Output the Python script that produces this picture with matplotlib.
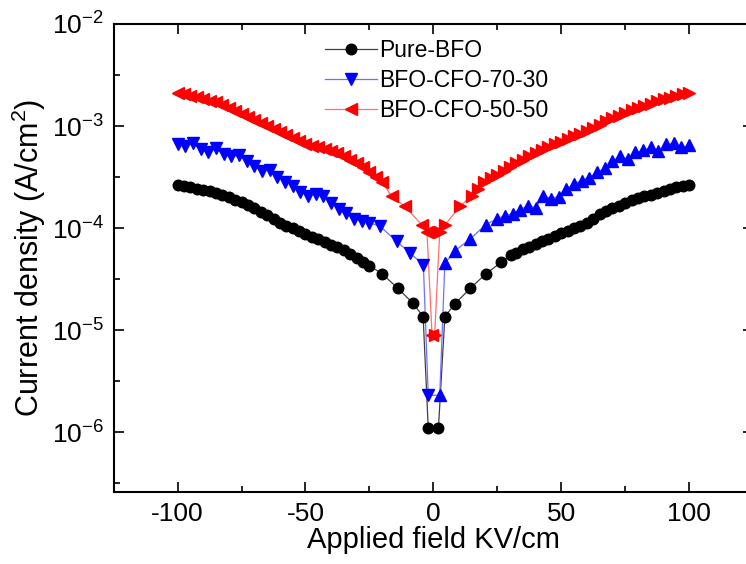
import matplotlib
matplotlib.use("Agg")
import matplotlib.pyplot as plt
from matplotlib.lines import Line2D
from matplotlib.ticker import FixedLocator, NullFormatter
import numpy as np

plt.rcParams['font.family'] = ['Liberation Sans', 'DejaVu Sans']
plt.rcParams['mathtext.fontset'] = 'custom'
plt.rcParams['mathtext.rm'] = 'Liberation Sans'
plt.rcParams['mathtext.it'] = 'Liberation Sans:italic'
plt.rcParams['mathtext.default'] = 'regular'

# ---------------- data ----------------
field_bfo = [-100, -97.5, -95, -92.5, -90, -87.5, -85, -82.5, -80, -77.5, -75, -72.5, -70, -67.5,
             -65, -62.5, -60, -57.5, -55, -52.5, -50, -47.5, -45, -42.5, -40, -37.5, -35, -32.5,
             -30, -27.5, -25, -20, -14, -8, -4, -2,
             2, 4.5, 8.5, 14.5, 20.5, 26.5, 30.5, 32.5, 35, 37.5, 40, 42.5, 45, 47.5, 50, 52.5,
             55, 57.5, 60, 62.5, 65, 67.5, 70, 72.5, 75, 77.5, 80, 82.5, 85, 87.5, 90, 92.5, 95,
             97.5, 100]
j_bfo = [2.67e-4, 2.59e-4, 2.51e-4, 2.43e-4, 2.37e-4, 2.29e-4, 2.22e-4, 2.11e-4, 2.00e-4, 1.89e-4,
         1.79e-4, 1.67e-4, 1.56e-4, 1.45e-4, 1.35e-4, 1.22e-4, 1.13e-4, 1.06e-4, 9.98e-5, 9.35e-5,
         8.81e-5, 8.26e-5, 7.78e-5, 7.31e-5, 6.89e-5, 6.47e-5, 6.10e-5, 5.56e-5, 5.08e-5, 4.69e-5,
         4.30e-5, 3.56e-5, 2.59e-5, 1.84e-5, 1.36e-5, 1.11e-6,
         1.11e-6, 1.36e-5, 1.82e-5, 2.58e-5, 3.56e-5, 4.62e-5, 5.47e-5, 5.75e-5, 6.19e-5, 6.58e-5,
         6.98e-5, 7.41e-5, 7.87e-5, 8.36e-5, 8.87e-5, 9.42e-5, 1.00e-4, 1.06e-4, 1.13e-4, 1.23e-4,
         1.39e-4, 1.48e-4, 1.57e-4, 1.66e-4, 1.77e-4, 1.87e-4, 1.96e-4, 2.05e-4, 2.13e-4, 2.23e-4,
         2.33e-4, 2.42e-4, 2.50e-4, 2.59e-4, 2.67e-4]

field_7030 = [-100, -97, -94, -91, -88, -85, -82, -79, -76, -73, -70, -67, -64, -61, -58, -55, -52,
              -49, -46, -43, -40, -37, -34, -31, -28, -25, -20.8, -14.3, -9.1, -3.9, -2,
              2.5, 4.5, 8.5, 14.5, 20.5, 25, 28, 31, 34, 37, 40, 43, 46, 49, 52, 55, 58, 61, 64,
              67, 70, 73, 76, 79, 82, 85, 88, 91, 94, 97, 100]
j_7030 = [6.61e-4, 6.31e-4, 6.76e-4, 5.90e-4, 5.51e-4, 6.04e-4, 5.27e-4, 5.04e-4, 5.15e-4, 4.50e-4,
          4.02e-4, 3.66e-4, 3.75e-4, 3.20e-4, 2.86e-4, 2.61e-4, 2.28e-4, 2.08e-4, 2.18e-4, 2.08e-4,
          1.78e-4, 1.55e-4, 1.42e-4, 1.24e-4, 1.18e-4, 1.13e-4, 1.04e-4, 7.40e-5, 5.69e-5, 4.37e-5,
          2.30e-6,
          2.30e-6, 4.54e-5, 6.00e-5, 7.87e-5, 1.08e-4, 1.24e-4, 1.32e-4, 1.39e-4, 1.52e-4, 1.66e-4,
          1.59e-4, 2.08e-4, 1.95e-4, 2.04e-4, 2.39e-4, 2.73e-4, 2.92e-4, 3.13e-4, 3.51e-4, 3.84e-4,
          4.50e-4, 5.04e-4, 4.71e-4, 5.51e-4, 5.77e-4, 6.18e-4, 5.64e-4, 6.61e-4, 6.76e-4, 6.18e-4,
          6.46e-4]

field_5050 = [-100, -97.5, -95, -92.5, -90, -87.5, -85, -82.5, -80, -77.5, -75, -72.5, -70, -67.5,
              -65, -62.5, -60, -57.5, -55, -52.5, -50, -47.5, -45, -42.5, -40, -37.5, -35, -32.5,
              -30, -27.5, -25, -22.5, -20, -16.3, -11.1, -4.6, -2.5, -0.5,
              0.5, 2.5, 4.6, 10.4, 15, 17.5, 20, 22.5, 25, 27.5, 30, 32.5, 35, 37.5, 40, 42.5, 45,
              47.5, 50, 52.5, 55, 57.5, 60, 62.5, 65, 67.5, 70, 72.5, 75, 77.5, 80, 82.5, 85, 87.5,
              90, 92.5, 95, 97.5, 100]
j_5050 = [2.13e-3, 2.06e-3, 1.98e-3, 1.91e-3, 1.84e-3, 1.77e-3, 1.71e-3, 1.61e-3, 1.51e-3, 1.41e-3,
          1.32e-3, 1.23e-3, 1.15e-3, 1.07e-3, 9.96e-4, 9.29e-4, 8.65e-4, 8.13e-4, 7.62e-4, 7.13e-4,
          6.70e-4, 6.40e-4, 6.17e-4, 5.92e-4, 5.68e-4, 5.43e-4, 5.05e-4, 4.70e-4, 4.37e-4, 3.98e-4,
          3.56e-4, 3.17e-4, 2.82e-4, 2.05e-4, 1.63e-4, 1.08e-4, 9.22e-5, 8.95e-6,
          8.95e-6, 9.22e-5, 1.08e-4, 1.63e-4, 2.08e-4, 2.44e-4, 2.81e-4, 3.08e-4, 3.35e-4, 3.66e-4,
          3.99e-4, 4.35e-4, 4.69e-4, 5.04e-4, 5.42e-4, 5.81e-4, 6.24e-4, 6.64e-4, 7.05e-4, 7.45e-4,
          7.91e-4, 8.38e-4, 8.95e-4, 9.62e-4, 1.03e-3, 1.11e-3, 1.19e-3, 1.26e-3, 1.35e-3, 1.43e-3,
          1.51e-3, 1.58e-3, 1.66e-3, 1.75e-3, 1.83e-3, 1.90e-3, 1.97e-3, 2.05e-3, 2.13e-3]

series_labels = ['Pure-BFO', 'BFO-CFO-70-30', 'BFO-CFO-50-50']
x_ticks = [-100, -50, 0, 50, 100]
y_ticks = [1e-6, 1e-5, 1e-4, 1e-3, 1e-2]
y_tick_labels = ['10$^{-6}$', '10$^{-5}$', '10$^{-4}$', '10$^{-3}$', '10$^{-2}$']

# ---------------- figure ----------------
fig = plt.figure(figsize=(7.46, 5.64), dpi=100)
ax = fig.add_axes([0.1524, 0.1277, 0.857, 0.8298])
ax.set_yscale('log')

series = [
    (field_bfo, j_bfo, 'black', '#404040', 'o', 'o', 7.6),
    (field_7030, j_7030, '#0000ff', '#6f6fff', 'v', '^', 8.6),
    (field_5050, j_5050, '#ff0000', '#ff6f6f', '<', '>', 8.4),
]
handles = []
for (fx, jy, mc, lc, mleft, mright, ms), lab in zip(series, series_labels):
    fx = np.asarray(fx); jy = np.asarray(jy)
    ax.plot(fx, jy, color=lc, lw=0.9, zorder=2)
    left = fx < 0
    ax.plot(fx[left], jy[left], ls='none', marker=mleft, ms=ms, color=mc, mec=mc, zorder=3)
    ax.plot(fx[~left], jy[~left], ls='none', marker=mright, ms=ms, color=mc, mec=mc, zorder=3)
    handles.append(Line2D([], [], color=lc, lw=0.9, marker=mleft, ms=ms, mfc=mc, mec=mc))

ax.set_xlim(-125, 125)
ax.set_ylim(2.6e-7, 1e-2)
ax.set_xticks(x_ticks)
ax.set_xticklabels([str(v) for v in x_ticks])
ax.xaxis.set_minor_locator(FixedLocator([-75, -25, 25, 75]))
ax.set_yticks(y_ticks)
ax.set_yticklabels(y_tick_labels)
ax.yaxis.set_minor_locator(FixedLocator([3.16e-7, 3.16e-6, 3.16e-5, 3.16e-4, 3.16e-3]))
ax.yaxis.set_minor_formatter(NullFormatter())

for s in ax.spines.values():
    s.set_linewidth(1.5)
ax.tick_params(which='both', direction='in', top=True, right=True, width=1.2)
ax.tick_params(which='major', length=7.5, labelsize=19, pad=7)
ax.tick_params(which='minor', length=4)

ax.set_xlabel('Applied field KV/cm', fontsize=21, labelpad=0)
ax.set_ylabel('Current density (A/cm$^{2}$)', fontsize=22, labelpad=3)

leg = ax.legend(handles, series_labels, loc='upper left', bbox_to_anchor=(325/746, 1 - 39/564),
                bbox_transform=fig.transFigure, frameon=False, fontsize=16.5, handlelength=2.27,
                handletextpad=0.08, labelspacing=0.3, borderpad=0, borderaxespad=0)

fig.savefig('out.png', dpi=100)
